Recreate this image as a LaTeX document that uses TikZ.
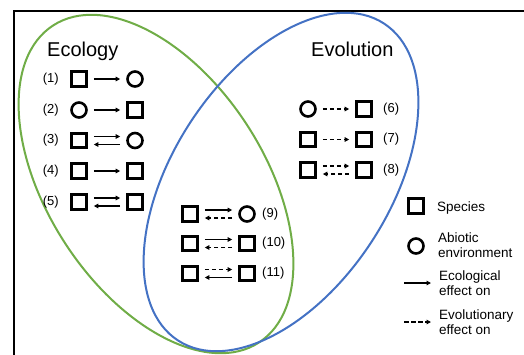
\documentclass[tikz,border=0pt]{standalone}
\usepackage{fontspec}
\setmainfont{Liberation Sans}
\usetikzlibrary{arrows.meta}
\definecolor{ecogreen}{RGB}{112,173,71}
\definecolor{evoblue}{RGB}{68,114,196}
\tikzset{
  sq/.style={draw, line width=2.6pt, minimum width=15pt, minimum height=14.5pt, inner sep=0pt},
  ci/.style={draw, circle, line width=2.6pt, minimum size=15pt, inner sep=0pt},
  eco/.style={-{Triangle[length=4.5pt,width=4.5pt]}, line width=1.2pt, shorten <=6pt, shorten >=6pt},
  evo/.style={eco, dash pattern=on 4.5pt off 2.5pt},
  num/.style={font=\fontsize{13}{15}\selectfont, inner sep=0pt},
  ttl/.style={font=\fontsize{20}{24}\selectfont, inner sep=0pt, anchor=base west},
  leg/.style={font=\fontsize{13.5}{15}\selectfont, inner sep=0pt, align=left, anchor=north west},
  ring/.style={line width=2pt},
}
\begin{document}
\begin{tikzpicture}[x=1pt,y=-1pt]
\useasboundingbox (0,0) rectangle (524,354);
% frame
\draw[line width=2pt] (14,356) -- (14,11) -- (526,11);
% ellipses
\draw[ring, ecogreen, rotate around={-57:(156,184)}] (156,184) ellipse [x radius=189pt, y radius=108.5pt];
\draw[ring, evoblue, rotate around={57:(281,182)}] (281,182) ellipse [x radius=189pt, y radius=108.5pt];
% titles
\node[ttl] (teco) at (47,56) {Ecology};
\node[ttl] (tevo) at (311,56) {Evolution};
% Ecology rows
\node[num, anchor=east] (l1) at (59,79) {(1)};
\node[sq] (a1) at (79,79) {};
\node[ci] (b1) at (135,79) {};
\draw[eco] (a1) -- (b1);
\node[num, anchor=east] (l2) at (59,110) {(2)};
\node[ci] (a2) at (79,110) {};
\node[sq] (b2) at (135,110) {};
\draw[eco] (a2) -- (b2);
\node[num, anchor=east] (l3) at (59,140.5) {(3)};
\node[sq] (a3) at (79,140.5) {};
\node[ci] (b3) at (135,140.5) {};
\draw[eco] ([yshift=4pt]a3.east) -- ([yshift=4pt]b3.west);
\draw[eco] ([yshift=-4pt]b3.west) -- ([yshift=-4pt]a3.east);
\node[num, anchor=east] (l4) at (59,171) {(4)};
\node[sq] (a4) at (79,171) {};
\node[sq] (b4) at (135,171) {};
\draw[eco] (a4) -- (b4);
\node[num, anchor=east] (l5) at (59,202) {(5)};
\node[sq] (a5) at (79,202) {};
\node[sq] (b5) at (135,202) {};
\draw[eco] ([yshift=4pt]a5.east) -- ([yshift=4pt]b5.west);
\draw[eco] ([yshift=-4pt]b5.west) -- ([yshift=-4pt]a5.east);
% Evolution rows
\node[ci] (a6) at (308,109) {};
\node[sq] (b6) at (364,109) {};
\node[num, anchor=west] (l6) at (383,109) {(6)};
\draw[evo] (a6) -- (b6);
\node[sq] (a7) at (308,139.5) {};
\node[sq] (b7) at (364,139.5) {};
\node[num, anchor=west] (l7) at (383,139.5) {(7)};
\draw[evo] (a7) -- (b7);
\node[sq] (a8) at (308,170) {};
\node[sq] (b8) at (364,170) {};
\node[num, anchor=west] (l8) at (383,170) {(8)};
\draw[evo] ([yshift=4pt]a8.east) -- ([yshift=4pt]b8.west);
\draw[evo] ([yshift=-4pt]b8.west) -- ([yshift=-4pt]a8.east);
% Middle rows
\node[sq] (a9) at (190,214) {};
\node[ci] (b9) at (247,214) {};
\node[num, anchor=west] (l9) at (262,214) {(9)};
\draw[eco] ([yshift=4pt]a9.east) -- ([yshift=4pt]b9.west);
\draw[evo] ([yshift=-4pt]b9.west) -- ([yshift=-4pt]a9.east);
\node[sq] (a10) at (190,243.5) {};
\node[sq] (b10) at (247,243.5) {};
\node[num, anchor=west] (l10) at (262,243.5) {(10)};
\draw[eco] ([yshift=4pt]a10.east) -- ([yshift=4pt]b10.west);
\draw[evo] ([yshift=-4pt]b10.west) -- ([yshift=-4pt]a10.east);
\node[sq] (a11) at (190,273.5) {};
\node[sq] (b11) at (247,273.5) {};
\node[num, anchor=west] (l11) at (262,273.5) {(11)};
\draw[evo] ([yshift=4pt]a11.east) -- ([yshift=4pt]b11.west);
\draw[eco] ([yshift=-4pt]b11.west) -- ([yshift=-4pt]a11.east);
% Legend
\node[sq] (ls) at (416,206) {};
\node[leg, anchor=base west] (lst) at (437,211) {Species};
\node[ci] (lc) at (416,246) {};
\node[leg] (lct) at (438,233) {Abiotic\\environment};
\coordinate (e1) at (404,283);
\coordinate (e2) at (431,283);
\draw[eco, shorten <=0pt, shorten >=0pt] (e1) -- (e2);
\node[leg] (let) at (439,271) {Ecological\\effect on};
\coordinate (v1) at (404,322);
\coordinate (v2) at (431,322);
\draw[evo, shorten <=0pt, shorten >=0pt] (v1) -- (v2);
\node[leg] (lvt) at (439,309.5) {Evolutionary\\effect on};
\end{tikzpicture}
\end{document}
